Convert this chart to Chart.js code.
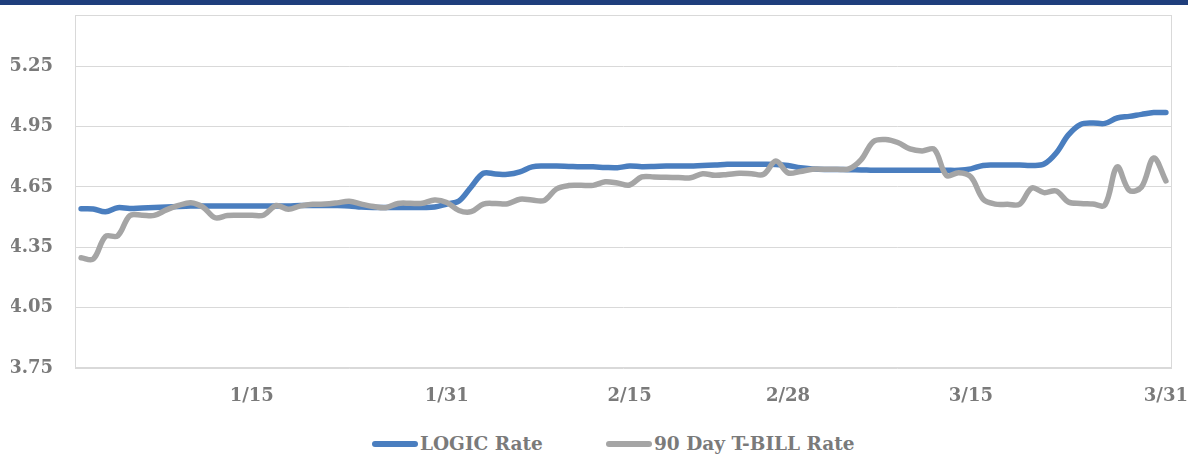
<!DOCTYPE html>
<html lang="en">
<head>
    <meta charset="UTF-8">
    <title>LOGIC Rate vs 90 Day T-BILL Rate</title>
    <script src="https://cdn.jsdelivr.net/npm/chart.js"></script>
    <style>
        body {
            margin: 0;
            width: 1188px;
            height: 454px;
            overflow: hidden;
            background: #fff;
            font-family: "DejaVu Serif", serif;
        }
        .topbar {
            position: absolute;
            left: 0; top: 0;
            width: 1188px;
            height: 5px;
            background: #1f3e7c;
        }
        .chart-box {
            position: absolute;
            left: 0; top: 5px;
            width: 1188px;
            height: 420px;
        }
        .legend-item {
            position: absolute;
            top: 433px;
            display: flex;
            align-items: center;
            font-weight: bold;
            font-size: 18.5px;
            color: #7a7a7a;
            white-space: nowrap;
        }
        .legend-item .swatch {
            width: 46px;
            height: 6px;
            border-radius: 3px;
            margin-right: 2px;
        }
    </style>
</head>
<body>
    <div class="topbar"></div>
    <div class="chart-box"><canvas id="rateChart"></canvas></div>
    <div class="legend-item" style="left:372px"><span class="swatch" style="background:#4a7ebf"></span>LOGIC Rate</div>
    <div class="legend-item" style="left:606px"><span class="swatch" style="background:#a5a5a5"></span>90 Day T-BILL Rate</div>

    <script>
        // daily dates, Jan 1 - Mar 31
        const dates = [
            '1/1','1/2','1/3','1/4','1/5','1/6','1/7','1/8','1/9','1/10',
            '1/11','1/12','1/13','1/14','1/15','1/16','1/17','1/18','1/19','1/20',
            '1/21','1/22','1/23','1/24','1/25','1/26','1/27','1/28','1/29','1/30','1/31',
            '2/1','2/2','2/3','2/4','2/5','2/6','2/7','2/8','2/9','2/10',
            '2/11','2/12','2/13','2/14','2/15','2/16','2/17','2/18','2/19','2/20',
            '2/21','2/22','2/23','2/24','2/25','2/26','2/27','2/28',
            '3/1','3/2','3/3','3/4','3/5','3/6','3/7','3/8','3/9','3/10',
            '3/11','3/12','3/13','3/14','3/15','3/16','3/17','3/18','3/19','3/20',
            '3/21','3/22','3/23','3/24','3/25','3/26','3/27','3/28','3/29','3/30','3/31'
        ];
        const shownDates = ['1/15', '1/31', '2/15', '2/28', '3/15', '3/31'];
        const yTicks = [3.75, 4.05, 4.35, 4.65, 4.95, 5.25];

        const logicRate = [
            4.542, 4.541, 4.527, 4.547, 4.543, 4.546, 4.548, 4.550, 4.553, 4.555,
            4.555, 4.555, 4.555, 4.555, 4.555, 4.555, 4.555, 4.555, 4.558, 4.558,
            4.558, 4.558, 4.556, 4.550, 4.548, 4.548, 4.548, 4.548, 4.548, 4.550,
            4.565, 4.580, 4.650, 4.718, 4.715, 4.713, 4.725, 4.750, 4.754, 4.754,
            4.752, 4.750, 4.750, 4.747, 4.746, 4.754, 4.751, 4.752, 4.754, 4.754,
            4.754, 4.757, 4.759, 4.763, 4.763, 4.763, 4.763, 4.762, 4.757, 4.746,
            4.740, 4.737, 4.737, 4.736, 4.735, 4.733, 4.733, 4.733, 4.733, 4.733,
            4.733, 4.733, 4.733, 4.740, 4.757, 4.759, 4.759, 4.759, 4.757, 4.764,
            4.819, 4.909, 4.961, 4.968, 4.966, 4.993, 5.001, 5.011, 5.020, 5.020
        ];
        const tBillRate = [
            4.298, 4.292, 4.404, 4.407, 4.508, 4.510, 4.509, 4.536, 4.558, 4.572,
            4.550, 4.497, 4.508, 4.509, 4.509, 4.511, 4.558, 4.539, 4.556, 4.564,
            4.565, 4.571, 4.579, 4.565, 4.553, 4.547, 4.568, 4.569, 4.569, 4.585,
            4.573, 4.533, 4.527, 4.565, 4.568, 4.567, 4.589, 4.585, 4.583, 4.640,
            4.657, 4.658, 4.658, 4.676, 4.670, 4.660, 4.700, 4.700, 4.698, 4.697,
            4.696, 4.716, 4.708, 4.712, 4.718, 4.716, 4.713, 4.779, 4.720, 4.727,
            4.738, 4.738, 4.738, 4.740, 4.786, 4.876, 4.886, 4.871, 4.839, 4.829,
            4.837, 4.707, 4.721, 4.700, 4.590, 4.565, 4.564, 4.564, 4.645, 4.622,
            4.630, 4.575, 4.568, 4.565, 4.560, 4.750, 4.633, 4.650, 4.794, 4.680
        ];

        // light grey frame round the plot area
        const plotFrame = {
            id: 'plotFrame',
            beforeDatasetsDraw(chart) {
                const { ctx, chartArea: a } = chart;
                ctx.save();
                ctx.strokeStyle = '#d9d9d9';
                ctx.lineWidth = 1;
                ctx.strokeRect(a.left + 0.5, a.top + 0.5, a.right - a.left - 1, a.bottom - a.top - 1);
                ctx.restore();
            }
        };

        const labelFont = { family: '"DejaVu Serif", serif', size: 18, weight: 'bold' };

        new Chart(document.getElementById('rateChart'), {
            type: 'line',
            data: {
                labels: dates,
                datasets: [
                    {
                        label: 'LOGIC Rate',
                        data: logicRate,
                        borderColor: '#4a7ebf',
                        borderWidth: 5.5,
                        borderCapStyle: 'round',
                        tension: 0.35,
                        pointRadius: 0,
                        order: 1
                    },
                    {
                        label: '90 Day T-BILL Rate',
                        data: tBillRate,
                        borderColor: '#a5a5a5',
                        borderWidth: 5.5,
                        borderCapStyle: 'round',
                        tension: 0.35,
                        pointRadius: 0,
                        order: 0
                    }
                ]
            },
            options: {
                responsive: true,
                maintainAspectRatio: false,
                animation: false,
                layout: { padding: { top: 10, right: 16, bottom: 18, left: 11 } },
                plugins: {
                    legend: { display: false },
                    tooltip: { enabled: false }
                },
                scales: {
                    x: {
                        offset: true,
                        afterFit: (scale) => {
                            scale.height = 39;
                            scale.paddingLeft = 0;
                            scale.paddingRight = 0;
                        },
                        grid: { display: false, drawTicks: false },
                        border: { display: false },
                        ticks: {
                            autoSkip: false,
                            maxRotation: 0,
                            minRotation: 0,
                            padding: 18,
                            color: '#7a7a7a',
                            font: labelFont,
                            callback: function (value) {
                                const d = this.getLabelForValue(value);
                                return shownDates.includes(d) ? d : '';
                            }
                        }
                    },
                    y: {
                        min: 3.75,
                        max: 5.505,
                        afterBuildTicks: (scale) => {
                            scale.ticks = yTicks.map(v => ({ value: v }));
                        },
                        afterFit: (scale) => {
                            scale.width = 64;
                            scale.paddingTop = 0;
                            scale.paddingBottom = 0;
                        },
                        grid: { color: '#d9d9d9', lineWidth: 1, drawTicks: false },
                        border: { display: false },
                        ticks: {
                            padding: 22,
                            color: '#7a7a7a',
                            font: labelFont,
                            callback: (v) => v.toFixed(2)
                        }
                    }
                }
            },
            plugins: [plotFrame]
        });
    </script>
</body>
</html>
